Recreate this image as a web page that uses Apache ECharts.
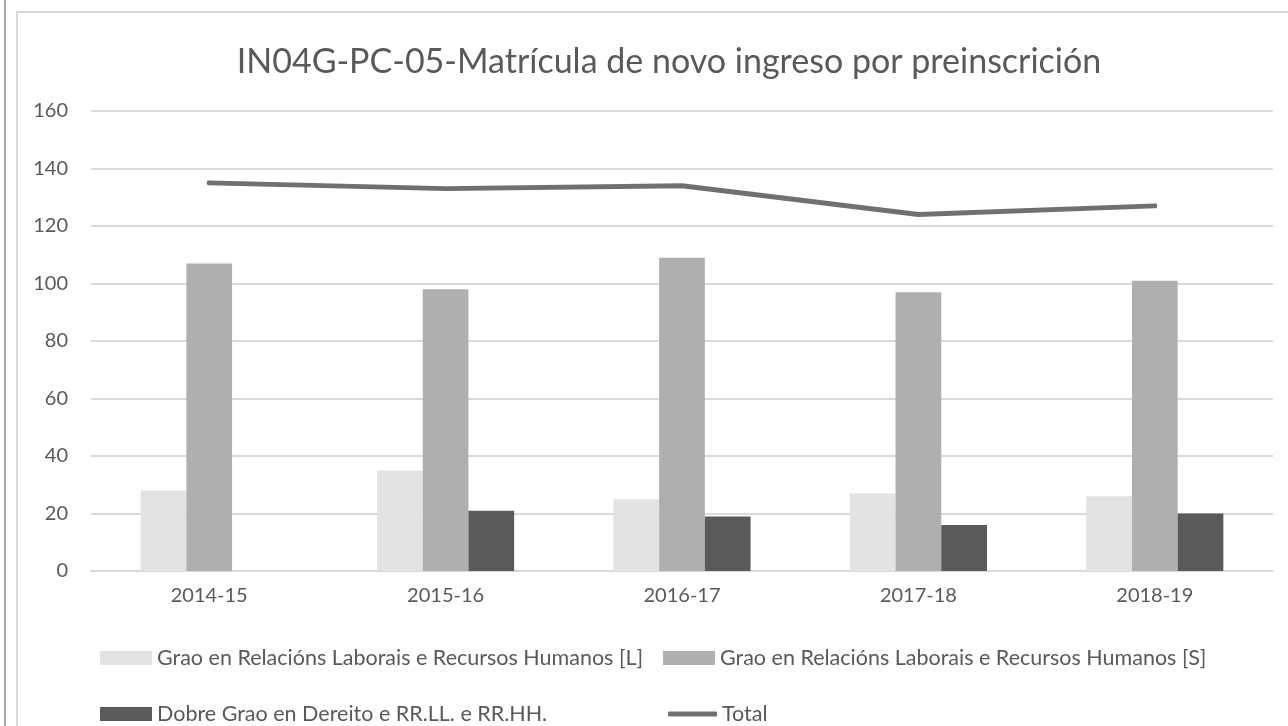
<!doctype html>
<html lang="gl">
<head>
    <meta charset="UTF-8">
    <title>IN04G-PC-05</title>
    <script src="https://cdn.jsdelivr.net/npm/echarts@6/dist/echarts.min.js"></script>
    <style>
        html, body { margin: 0; padding: 0; background: #fff; overflow: hidden; }
        .outer { position: absolute; left: 4px; top: 0; width: 1300px; height: 726px; border-left: 2px solid #a6a6a6; }
        .frame { position: absolute; left: 10px; top: 11px; width: 1300px; height: 800px; border-left: 2px solid #d9d9d9; border-top: 2px solid #d9d9d9; }
        #chart { position: absolute; left: 0; top: 0; width: 1288px; height: 726px; }
    </style>
</head>
<body>
<div class="outer"><div class="frame"></div></div>
<div id="chart"></div>
<script>
    var categories = ['2014-15', '2015-16', '2016-17', '2017-18', '2018-19'];
    var seriesNames = [
        'Grao en Relacións Laborais e Recursos Humanos [L]',
        'Grao en Relacións Laborais e Recursos Humanos [S]',
        'Dobre Grao en Dereito e RR.LL. e RR.HH.',
        'Total'
    ];
    var gradoL = [28, 35, 25, 27, 26];
    var gradoS = [107, 98, 109, 97, 101];
    var dobre = [null, 21, 19, 16, 20];
    var total = [135, 133, 134, 124, 127];
    var yTicks = { min: 0, max: 160, interval: 20 };

    var font = 'Lato, "Noto Sans", sans-serif';
    var txt = '#595959';

    // one legend per item so the two rows line up in columns
    function legendAt(name, left, top, icon, w, h) {
        return {
            data: [name], left: left, top: top, icon: icon, padding: 0,
            itemWidth: w, itemHeight: h, itemGap: 0,
            textStyle: { color: txt, fontSize: 21.5, fontFamily: font },
            selectedMode: false
        };
    }

    var chart = echarts.init(document.getElementById('chart'));
    var option = {
        animation: false,
        title: {
            text: 'IN04G-PC-05-Matrícula de novo ingreso por preinscrición',
            left: 664, top: 40, textAlign: 'center',
            textStyle: { color: txt, fontSize: 34, fontWeight: 'normal', fontFamily: font }
        },
        legend: [
            legendAt(seriesNames[0], 100, 647, 'rect', 52, 14),
            legendAt(seriesNames[1], 663, 647, 'rect', 52, 14),
            legendAt(seriesNames[2], 100, 703, 'rect', 52, 14),
            legendAt(seriesNames[3], 668, 703, 'roundRect', 49, 5)
        ],
        grid: { left: 91, right: 15, top: 111, bottom: 155 },
        xAxis: {
            type: 'category',
            data: categories,
            axisLine: { lineStyle: { color: '#d9d9d9', width: 2 } },
            axisTick: { show: false },
            axisLabel: { color: txt, fontSize: 20, fontFamily: font, margin: 15 }
        },
        yAxis: {
            type: 'value',
            min: yTicks.min, max: yTicks.max, interval: yTicks.interval,
            axisLine: { show: false },
            axisTick: { show: false },
            splitLine: { lineStyle: { color: '#d9d9d9', width: 2 } },
            axisLabel: { color: txt, fontSize: 20, fontFamily: font, margin: 23 }
        },
        series: [
            { name: seriesNames[0], type: 'bar', data: gradoL, barGap: '0%', barCategoryGap: '42%', itemStyle: { color: '#e3e3e3' } },
            { name: seriesNames[1], type: 'bar', data: gradoS, itemStyle: { color: '#afafaf' } },
            { name: seriesNames[2], type: 'bar', data: dobre, itemStyle: { color: '#5a5a5a' } },
            { name: seriesNames[3], type: 'line', data: total, symbol: 'none',
              lineStyle: { color: '#707070', width: 5, cap: 'round', join: 'round' },
              itemStyle: { color: '#707070' } }
        ]
    };
    chart.setOption(option);
</script>
</body>
</html>
